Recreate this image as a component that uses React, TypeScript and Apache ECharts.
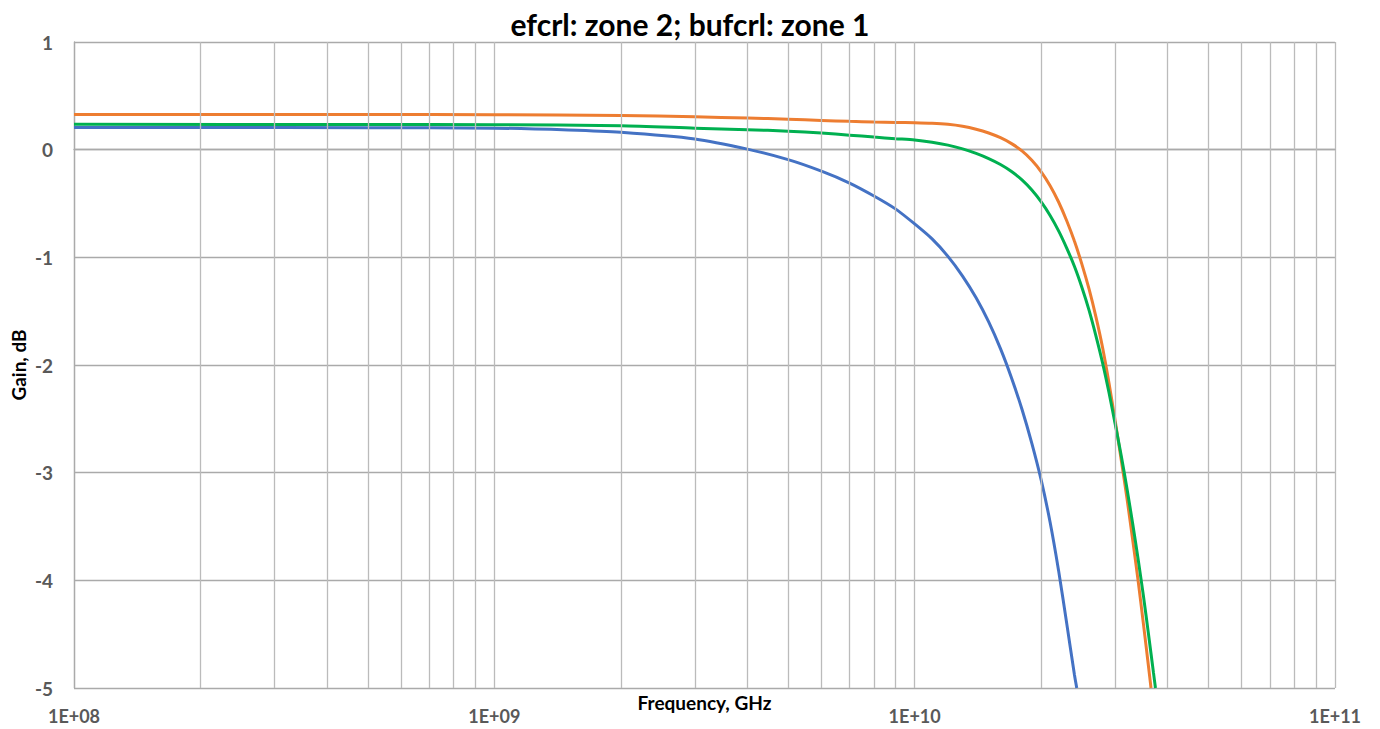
import React, { useEffect, useRef } from "react";
import * as echarts from "echarts";

const titleText = "efcrl: zone 2; bufcrl: zone 1";
const xAxisName = "Frequency, GHz";
const yAxisName = "Gain, dB";
const xTickLabels = ["1E+08", "1E+09", "1E+10", "1E+11"];
const yTicks = [1, 0, -1, -2, -3, -4, -5];

const freqBlue = [1e8, 2e8, 5e8, 1e9, 1.5e9, 2e9, 3e9, 4e9, 5e9, 6e9, 7e9, 8e9, 9e9, 1e10, 1.1e10, 1.2e10, 1.3e10, 1.4e10, 1.5e10, 1.6e10, 1.7e10, 1.8e10, 1.9e10, 2e10, 2.1e10, 2.2e10, 2.3e10, 2.4e10, 2.43e10];
const gainBlue = [0.205, 0.205, 0.204, 0.2, 0.183, 0.162, 0.1, 0.005, -0.093, -0.2, -0.31, -0.43, -0.55, -0.69, -0.829, -0.991, -1.174, -1.376, -1.6, -1.848, -2.12, -2.411, -2.728, -3.07, -3.46, -3.91, -4.40, -4.88, -5.0];

const freqOrange = [1e8, 5e8, 1e9, 2e9, 3e9, 4e9, 5e9, 6e9, 7e9, 8e9, 9e9, 1e10, 1.1e10, 1.2e10, 1.3e10, 1.4e10, 1.5e10, 1.6e10, 1.7e10, 1.8e10, 1.9e10, 2e10, 2.1e10, 2.2e10, 2.3e10, 2.4e10, 2.5e10, 2.6e10, 2.7e10, 2.8e10, 2.9e10, 3e10, 3.1e10, 3.2e10, 3.3e10, 3.4e10, 3.5e10, 3.6e10, 3.65e10];
const gainOrange = [0.326, 0.327, 0.325, 0.318, 0.305, 0.294, 0.283, 0.272, 0.263, 0.257, 0.253, 0.25, 0.245, 0.235, 0.217, 0.19, 0.155, 0.111, 0.056, -0.012, -0.099, -0.206, -0.335, -0.486, -0.66, -0.851, -1.065, -1.296, -1.555, -1.84, -2.17, -2.52, -2.88, -3.24, -3.62, -4.0, -4.4, -4.8, -5.0];

const freqGreen = [1e8, 5e8, 1e9, 2e9, 3e9, 4e9, 5e9, 6e9, 7e9, 8e9, 9e9, 1e10, 1.1e10, 1.2e10, 1.3e10, 1.4e10, 1.5e10, 1.6e10, 1.7e10, 1.8e10, 1.9e10, 2e10, 2.1e10, 2.2e10, 2.3e10, 2.4e10, 2.5e10, 2.6e10, 2.7e10, 2.8e10, 2.9e10, 3e10, 3.1e10, 3.2e10, 3.3e10, 3.4e10, 3.5e10, 3.6e10, 3.7e10, 3.74e10];
const gainGreen = [0.235, 0.234, 0.232, 0.222, 0.2, 0.186, 0.172, 0.155, 0.135, 0.117, 0.102, 0.09, 0.069, 0.042, 0.007, -0.035, -0.083, -0.138, -0.203, -0.281, -0.375, -0.485, -0.611, -0.754, -0.914, -1.085, -1.28, -1.493, -1.731, -1.982, -2.257, -2.55, -2.84, -3.15, -3.47, -3.8, -4.14, -4.5, -4.86, -5.0];

const FONT = "Lato";

function pairs(xs: number[], ys: number[]) {
  return xs.map((x, i) => [x, ys[i]]);
}

export default function App() {
  const ref = useRef<HTMLDivElement>(null);
  useEffect(() => {
    if (!ref.current) return;
    const chart = echarts.init(ref.current, undefined, { renderer: "svg" });
    const minorLines: { xAxis: number }[] = [];
    for (let d = 8; d <= 10; d++) {
      for (let k = 2; k <= 9; k++) minorLines.push({ xAxis: k * Math.pow(10, d) });
    }
    const lineSeries = (name: string, color: string, data: number[][]) => ({
      name,
      type: "line",
      data,
      showSymbol: false,
      symbol: "none",
      smooth: 0.25,
      lineStyle: { color, width: 3 },
      itemStyle: { color },
      z: 3,
      silent: true,
      emphasis: { disabled: true },
    });
    chart.setOption({
      animation: false,
      backgroundColor: "#ffffff",
      title: {
        text: titleText,
        left: "center",
        top: 4,
        textStyle: { fontFamily: FONT, fontWeight: "bold", fontSize: 30, color: "#000000" },
      },
      grid: { left: 74, right: 45, top: 42, bottom: 41, containLabel: false, outerBoundsMode: "none" },
      xAxis: {
        type: "log",
        logBase: 10,
        min: 1e8,
        max: 1e11,
        name: xAxisName,
        nameLocation: "middle",
        nameGap: 5,
        nameMoveOverlap: false,
        nameTextStyle: { fontFamily: FONT, fontWeight: "bold", fontSize: 19, color: "#000000", verticalAlign: "top" },
        axisLine: { show: true, lineStyle: { color: "#aaaaaa", width: 1.3 } },
        axisTick: { show: false },
        axisLabel: {
          margin: 19,
          fontFamily: FONT,
          fontWeight: "bold",
          fontSize: 18,
          color: "#595959",
          formatter: (v: number) => xTickLabels[Math.round(Math.log10(v)) - 8] ?? "",
        },
        splitLine: { show: true, lineStyle: { color: "#bbbbbb", width: 1.3 } },
      },
      yAxis: {
        type: "value",
        min: yTicks[yTicks.length - 1],
        max: yTicks[0],
        interval: 1,
        name: yAxisName,
        nameLocation: "middle",
        nameGap: 46,
        nameMoveOverlap: false,
        nameTextStyle: { fontFamily: FONT, fontWeight: "bold", fontSize: 19, color: "#000000" },
        axisLine: { show: true, lineStyle: { color: "#aaaaaa", width: 1.3 } },
        axisTick: { show: false },
        axisLabel: { margin: 21, fontFamily: FONT, fontWeight: "bold", fontSize: 19, color: "#595959" },
        splitLine: { show: true, lineStyle: { color: "#aaaaaa", width: 1.3 } },
      },
      series: [
        {
          name: "grid",
          type: "line",
          data: [],
          silent: true,
          z: 1,
          markLine: {
            silent: true,
            symbol: ["none", "none"],
            label: { show: false },
            emphasis: { disabled: true },
            lineStyle: { color: "#bbbbbb", width: 1.3, type: "solid" },
            data: minorLines,
          },
        },
        lineSeries("blue", "#4472C4", pairs(freqBlue, gainBlue)),
        lineSeries("orange", "#ED7D31", pairs(freqOrange, gainOrange)),
        lineSeries("green", "#00B050", pairs(freqGreen, gainGreen)),
      ],
    });
    return () => chart.dispose();
  }, []);
  return <div ref={ref} style={{ position: "fixed", left: 0, top: 0, width: 1380, height: 729 }} />;
}
